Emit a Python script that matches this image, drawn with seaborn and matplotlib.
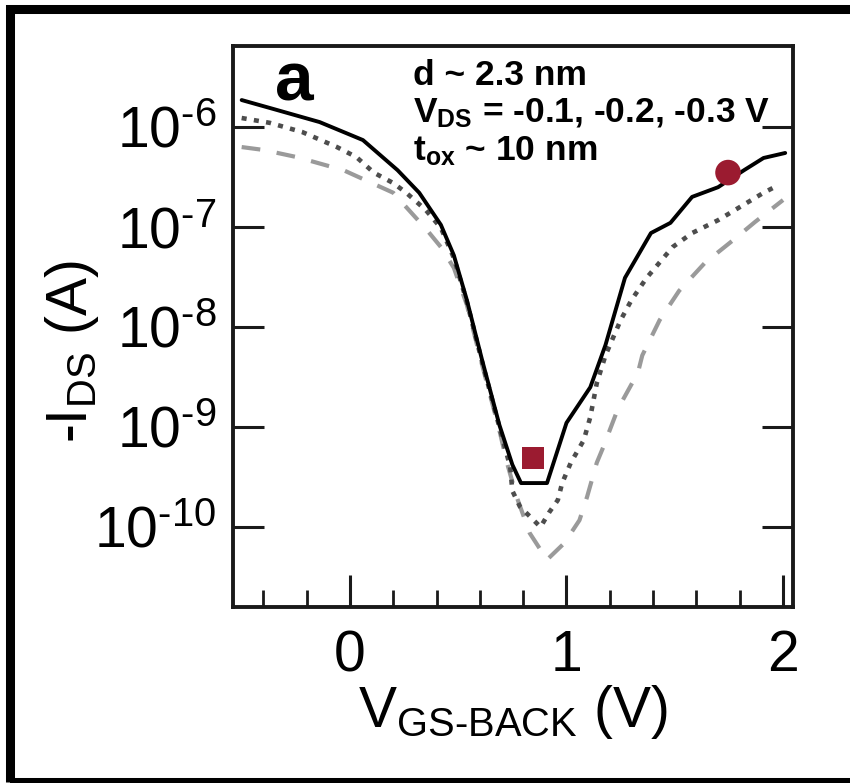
import numpy as np
import pandas as pd
import matplotlib
matplotlib.use("Agg")
import matplotlib.pyplot as plt
from matplotlib.patches import Rectangle
from matplotlib.ticker import FixedLocator, FixedFormatter
import seaborn as sns

# ---------------- data ----------------
vgs_solid = [-0.50, -0.37, -0.14, 0.06, 0.22, 0.32, 0.42, 0.48, 0.54, 0.61, 0.69, 0.75, 0.79,
             0.91, 1.00, 1.11, 1.18, 1.27, 1.39, 1.48, 1.58, 1.70, 1.82, 1.91, 2.01]
ids_solid = [1.86e-6, 1.55e-6, 1.12e-6, 7.4e-7, 3.7e-7, 2.2e-7, 1.05e-7, 5.2e-8, 1.86e-8, 4.7e-9,
             1.05e-9, 4.2e-10, 2.75e-10, 2.75e-10, 1.1e-9, 2.5e-9, 6.6e-9, 3.1e-8, 8.7e-8,
             1.1e-7, 2.0e-7, 2.5e-7, 3.7e-7, 4.9e-7, 5.5e-7]

vgs_dotted = [-0.50, -0.37, -0.22, -0.06, 0.03, 0.11, 0.20, 0.26, 0.35, 0.42, 0.48, 0.54, 0.61,
              0.69, 0.74, 0.75, 0.785, 0.88, 0.92, 0.96, 0.98, 1.02, 1.08, 1.11, 1.14, 1.18,
              1.25, 1.30, 1.37, 1.49, 1.58, 1.70, 1.80, 1.91, 1.96]
ids_dotted = [1.23e-6, 1.10e-6, 8.9e-7, 6.3e-7, 5.0e-7, 3.5e-7, 2.75e-7, 2.2e-7, 1.48e-7, 9.8e-8,
              4.9e-8, 1.78e-8, 4.5e-9, 1.0e-9, 4.0e-10, 2.3e-10, 1.6e-10, 1.0e-10, 1.4e-10,
              1.86e-10, 2.75e-10, 4.4e-10, 7.4e-10, 1.26e-9, 2.75e-9, 5.2e-9, 1.17e-8, 1.86e-8,
              3.1e-8, 6.3e-8, 8.7e-8, 1.17e-7, 1.58e-7, 2.2e-7, 2.5e-7]

vgs_dashed = [-0.50, -0.40, -0.245, -0.03, 0.20, 0.356, 0.42, 0.48, 0.54, 0.61, 0.69, 0.725,
              0.77, 0.83, 0.91, 0.99, 1.06, 1.095, 1.14, 1.17, 1.23, 1.26, 1.33, 1.35, 1.43,
              1.52, 1.64, 1.77, 1.87, 2.00]
ids_dashed = [6.3e-7, 5.9e-7, 5.0e-7, 3.7e-7, 2.2e-7, 9.3e-8, 6.3e-8, 3.9e-8, 1.66e-8, 4.2e-9,
              9.3e-10, 4.4e-10, 2.0e-10, 8.7e-11, 4.7e-11, 6.9e-11, 1.17e-10, 2.0e-10, 4.4e-10,
              6.3e-10, 1.38e-9, 1.86e-9, 3.5e-9, 5.2e-9, 1.17e-8, 2.3e-8, 4.4e-8, 7.4e-8,
              1.12e-7, 1.86e-7]

square_point = (0.845, 4.9e-10)
circle_point = (1.746, 3.5e-7)

x_major = [0, 1, 2]
x_major_labels = ["0", "1", "2"]
x_minor = [-0.4, -0.2, 0.2, 0.4, 0.6, 0.8, 1.2, 1.4, 1.6, 1.8]
y_major = [1e-10, 1e-9, 1e-8, 1e-7, 1e-6]
y_major_labels = [r"$\mathregular{10^{\text{-}10}}$", r"$\mathregular{10^{\text{-}9}}$",
                  r"$\mathregular{10^{\text{-}8}}$", r"$\mathregular{10^{\text{-}7}}$",
                  r"$\mathregular{10^{\text{-}6}}$"]

# ---------------- style ----------------
sns.set_style("ticks")
plt.rcParams["font.family"] = ["Liberation Sans", "DejaVu Sans"]
plt.rcParams["mathtext.fontset"] = "custom"
plt.rcParams["mathtext.rm"] = "Liberation Sans"
plt.rcParams["mathtext.it"] = "Liberation Sans:italic"
plt.rcParams["mathtext.bf"] = "Liberation Sans:bold"
for key in ["text.color", "axes.labelcolor", "xtick.color", "ytick.color", "axes.edgecolor"]:
    plt.rcParams[key] = "black"

fig = plt.figure(figsize=(8.5, 7.83), dpi=100)
fig.patch.set_facecolor("white")
ax = fig.add_axes([233 / 850, 1 - 607 / 783, 560 / 850, 561 / 783])

df_s = pd.DataFrame({"V": vgs_solid, "I": ids_solid})
df_d = pd.DataFrame({"V": vgs_dotted, "I": ids_dotted})
df_g = pd.DataFrame({"V": vgs_dashed, "I": ids_dashed})

sns.lineplot(data=df_g, x="V", y="I", ax=ax, color="#9a9a9a", lw=3.0,
             linestyle=(0, (4.5, 4.0)), estimator=None, sort=False)
sns.lineplot(data=df_d, x="V", y="I", ax=ax, color="#4d4d4d", lw=3.3,
             linestyle=(0, (1.1, 1.6)), estimator=None, sort=False)
sns.lineplot(data=df_s, x="V", y="I", ax=ax, color="black", lw=2.8,
             estimator=None, sort=False)

sns.scatterplot(x=[square_point[0]], y=[square_point[1]], ax=ax, marker="s",
                s=260, color="#9b1b30", edgecolor="none", zorder=5)
sns.scatterplot(x=[circle_point[0]], y=[circle_point[1]], ax=ax, marker="o",
                s=340, color="#9b1b30", edgecolor="none", zorder=5)

ax.set_yscale("log")
ax.set_xlim(-0.54, 2.046)
ax.set_ylim(10 ** -10.8, 10 ** -5.19)

ax.xaxis.set_major_locator(FixedLocator(x_major))
ax.xaxis.set_major_formatter(FixedFormatter(x_major_labels))
ax.xaxis.set_minor_locator(FixedLocator(x_minor))
ax.yaxis.set_major_locator(FixedLocator(y_major))
ax.yaxis.set_major_formatter(FixedFormatter(y_major_labels))
ax.yaxis.set_minor_locator(FixedLocator([]))

ax.tick_params(axis="x", which="major", direction="in", length=23, width=2.2,
               labelsize=41, pad=16, top=False, bottom=True, color="#1a1a1a")
ax.tick_params(axis="x", which="minor", direction="in", length=12, width=2.0,
               top=False, bottom=True, color="#1a1a1a")
ax.tick_params(axis="y", which="major", direction="in", length=22, width=2.2,
               labelsize=41, pad=12, left=True, right=True, color="#1a1a1a")

for sp in ax.spines.values():
    sp.set_linewidth(2.8)
    sp.set_color("#1a1a1a")

ax.set_xlabel(r"V$_{\mathregular{GS\text{-}BACK}}$ (V)", fontsize=41, labelpad=0)
ax.set_ylabel(r"-I$_{\mathregular{DS}}$ (A)", fontsize=41)
ax.yaxis.set_label_coords(-0.235, 0.455)

ax.text(0.075, 0.9037, "a", transform=ax.transAxes, fontsize=50, fontweight="bold",
        va="baseline", ha="left")
ax.text(0.3214, 0.9305, "d ~ 2.3 nm", transform=ax.transAxes, fontsize=25.5,
        fontweight="bold", va="baseline", ha="left")
ax.text(0.3214, 0.8645, r"V$_{\mathbf{DS}}$ = -0.1, -0.2, -0.3 V", transform=ax.transAxes,
        fontsize=25.5, fontweight="bold", va="baseline", ha="left")
ax.text(0.3214, 0.7968, r"t$_{\mathbf{ox}}$ ~ 10 nm", transform=ax.transAxes,
        fontsize=25.5, fontweight="bold", va="baseline", ha="left")

# outer frame
fig.patches.append(Rectangle((10 / 850, 1 / 783), 1.05, 1 - 8.5 / 783 - 1 / 783,
                             transform=fig.transFigure, fill=False, lw=6.5,
                             edgecolor="black", zorder=10))

fig.savefig("out.png", dpi=100, facecolor="white")
